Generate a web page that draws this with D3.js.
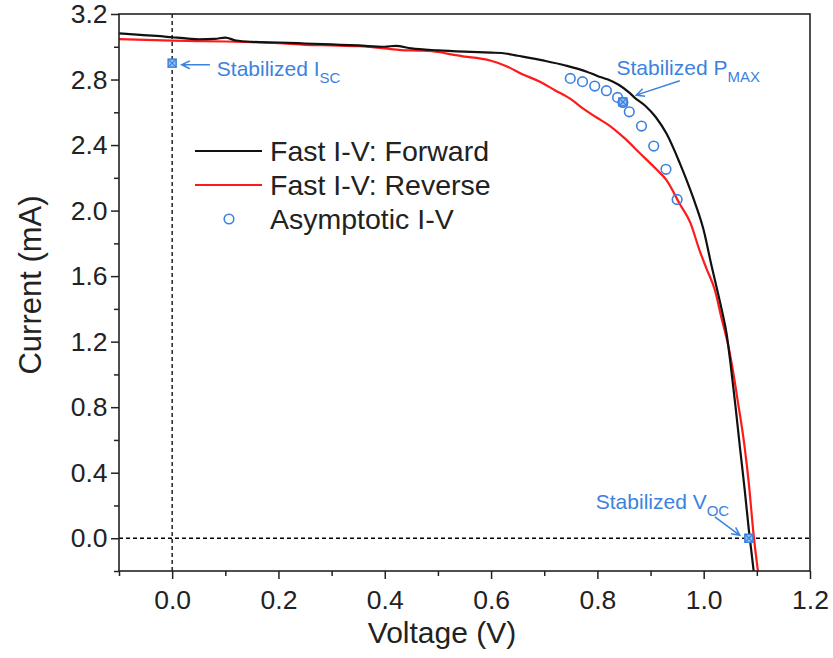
<!DOCTYPE html>
<html>
<head>
<meta charset="utf-8">
<script src="https://cdn.jsdelivr.net/npm/d3@7"></script>
<style>
  body { margin: 0; background: #fff; }
  svg { display: block; font-family: "Liberation Sans", Arial, sans-serif; }
</style>
</head>
<body>
<div id="chart"></div>
<script>
// Fast I-V, forward sweep
const fwdV = [-0.10, -0.06, -0.03, 0.00, 0.03, 0.05, 0.08, 0.10, 0.12, 0.15, 0.20, 0.25, 0.30, 0.35, 0.40, 0.42,
  0.45, 0.50, 0.55, 0.60, 0.62, 0.65, 0.70, 0.74, 0.78, 0.80, 0.82, 0.84, 0.86, 0.87, 0.89, 0.91, 0.93, 0.955,
  0.98, 1.000, 1.015, 1.027, 1.035, 1.043, 1.050, 1.060, 1.068, 1.077, 1.085, 1.094];
const fwdI = [3.082, 3.072, 3.066, 3.058, 3.050, 3.046, 3.048, 3.056, 3.038, 3.030, 3.026, 3.020, 3.014, 3.008, 3.000, 3.006,
  2.990, 2.978, 2.970, 2.964, 2.962, 2.945, 2.915, 2.886, 2.848, 2.822, 2.800, 2.768, 2.720, 2.690, 2.640, 2.570, 2.470, 2.290,
  2.080, 1.880, 1.660, 1.494, 1.380, 1.250, 1.080, 0.800, 0.560, 0.300, 0.049, -0.200];

// Fast I-V, reverse sweep
const revV = [-0.10, -0.05, 0.00, 0.05, 0.10, 0.15, 0.20, 0.25, 0.30, 0.35, 0.40, 0.43, 0.47, 0.50, 0.53, 0.55,
  0.58, 0.60, 0.63, 0.66, 0.69, 0.72, 0.75, 0.77, 0.80, 0.82, 0.85, 0.88, 0.91, 0.93, 0.955, 0.975, 0.992,
  1.006, 1.021, 1.033, 1.048, 1.058, 1.063, 1.077, 1.086, 1.093, 1.102];
const revI = [3.047, 3.042, 3.037, 3.035, 3.032, 3.028, 3.022, 3.012, 3.008, 3.003, 2.990, 2.980, 2.976, 2.968, 2.950, 2.940,
  2.928, 2.915, 2.880, 2.830, 2.790, 2.735, 2.680, 2.630, 2.565, 2.525, 2.445, 2.350, 2.255, 2.186, 2.040, 1.925, 1.759,
  1.640, 1.515, 1.351, 1.148, 0.965, 0.860, 0.558, 0.300, 0.049, -0.200];

// Asymptotic I-V points
const asyV = [0.749, 0.772, 0.795, 0.817, 0.838, 0.848, 0.860, 0.883, 0.906, 0.929, 0.950];
const asyI = [2.807, 2.787, 2.760, 2.732, 2.691, 2.660, 2.603, 2.516, 2.394, 2.252, 2.068];

// stabilized points: Isc, Pmax, Voc
const stabV = [0.0, 0.848, 1.085];
const stabI = [2.90, 2.663, 0.0];

const xTicks = [0.0, 0.2, 0.4, 0.6, 0.8, 1.0, 1.2];
const xMinor = [-0.1, 0.1, 0.3, 0.5, 0.7, 0.9, 1.1];
const yTicks = [0.0, 0.4, 0.8, 1.2, 1.6, 2.0, 2.4, 2.8, 3.2];
const yMinor = [-0.2, 0.2, 0.6, 1.0, 1.4, 1.8, 2.2, 2.6, 3.0];

const legendLabels = ["Fast I-V: Forward", "Fast I-V: Reverse", "Asymptotic I-V"];

const width = 833, height = 658;
const margin = { top: 14, right: 23, bottom: 87, left: 119 };
const blue = "#3b82e0";

const svg = d3.select("#chart").append("svg")
  .attr("width", width)
  .attr("height", height);

const x = d3.scaleLinear().domain([-0.1, 1.2]).range([margin.left, width - margin.right]);
const y = d3.scaleLinear().domain([-0.2, 3.2]).range([height - margin.bottom, margin.top]);

const fwd = fwdV.map((v, i) => [v, fwdI[i]]);
const rev = revV.map((v, i) => [v, revI[i]]);
const asy = asyV.map((v, i) => [v, asyI[i]]);

// zero lines
svg.append("line")
  .attr("x1", x(0)).attr("x2", x(0))
  .attr("y1", y(-0.2)).attr("y2", y(3.2))
  .attr("stroke", "#000").attr("stroke-width", 1.3).attr("stroke-dasharray", "4,3");
svg.append("line")
  .attr("x1", x(-0.1)).attr("x2", x(1.2))
  .attr("y1", y(0)).attr("y2", y(0))
  .attr("stroke", "#000").attr("stroke-width", 1.3).attr("stroke-dasharray", "4,3");

const line = d3.line().x(d => x(d[0])).y(d => y(d[1])).curve(d3.curveMonotoneX);

svg.append("path").datum(rev)
  .attr("fill", "none").attr("stroke", "#ff1a1a").attr("stroke-width", 2.2)
  .attr("d", line);
svg.append("path").datum(fwd)
  .attr("fill", "none").attr("stroke", "#111").attr("stroke-width", 2.2)
  .attr("d", line);

svg.selectAll(".asy").data(asy).join("circle")
  .attr("cx", d => x(d[0])).attr("cy", d => y(d[1])).attr("r", 4.8)
  .attr("fill", "none").attr("stroke", blue).attr("stroke-width", 1.6);

// stabilized markers: crossed squares
const stab = svg.selectAll(".stab").data(stabV.map((v, i) => [v, stabI[i]])).join("g")
  .attr("transform", d => `translate(${x(d[0])},${y(d[1])})`);
stab.append("rect").attr("x", -4).attr("y", -4).attr("width", 8).attr("height", 8)
  .attr("fill", "#9cc0f0").attr("stroke", blue).attr("stroke-width", 1.5);
stab.append("path").attr("d", "M-4,-4L4,4M-4,4L4,-4")
  .attr("stroke", blue).attr("stroke-width", 1.2);

// annotations
function arrow(v0, i0, v1, i1) {
  const x0 = x(v0), y0 = y(i0), x1 = x(v1), y1 = y(i1);
  const a = Math.atan2(y1 - y0, x1 - x0), h = 9, s = 0.45;
  const p = `M${x0},${y0}L${x1},${y1}` +
    `M${x1 - h * Math.cos(a - s)},${y1 - h * Math.sin(a - s)}L${x1},${y1}` +
    `L${x1 - h * Math.cos(a + s)},${y1 - h * Math.sin(a + s)}`;
  svg.append("path").attr("d", p).attr("fill", "none")
    .attr("stroke", blue).attr("stroke-width", 1.5);
}
function note(v, i, main, sub) {
  const t = svg.append("text").attr("x", x(v)).attr("y", y(i))
    .attr("fill", blue).style("font-size", "21px");
  t.append("tspan").text(main);
  t.append("tspan").attr("dy", 7).style("font-size", "15px").text(sub);
}
note(0.084, 2.82, "Stabilized I", "SC");
arrow(0.071, 2.89, 0.018, 2.89);
note(0.836, 2.827, "Stabilized P", "MAX");
arrow(0.955, 2.793, 0.873, 2.705);
note(0.797, 0.181, "Stabilized V", "OC");
arrow(1.021, 0.130, 1.068, 0.018);

// axes
const xAxis = svg.append("g")
  .attr("transform", `translate(0,${y(-0.2)})`)
  .call(d3.axisBottom(x).tickValues(xTicks).tickFormat(d3.format(".1f")).tickSize(8).tickSizeOuter(0));
svg.append("g")
  .attr("transform", `translate(0,${y(-0.2)})`)
  .call(d3.axisBottom(x).tickValues(xMinor).tickFormat("").tickSize(5).tickSizeOuter(0));
const yAxis = svg.append("g")
  .attr("transform", `translate(${x(-0.1)},0)`)
  .call(d3.axisLeft(y).tickValues(yTicks).tickFormat(d3.format(".1f")).tickSize(8).tickSizeOuter(0));
svg.append("g")
  .attr("transform", `translate(${x(-0.1)},0)`)
  .call(d3.axisLeft(y).tickValues(yMinor).tickFormat("").tickSize(5).tickSizeOuter(0));

svg.selectAll(".domain").remove();
svg.selectAll(".tick line").attr("stroke", "#222").attr("stroke-width", 1.5);
xAxis.selectAll("text").style("font-size", "26.5px").attr("fill", "#222").attr("dy", "1.0em");
yAxis.selectAll("text").style("font-size", "26.5px").attr("fill", "#222").attr("dx", "-0.02em");

// frame
svg.append("rect")
  .attr("x", x(-0.1)).attr("y", y(3.2))
  .attr("width", x(1.2) - x(-0.1)).attr("height", y(-0.2) - y(3.2))
  .attr("fill", "none").attr("stroke", "#222").attr("stroke-width", 1.6);

// axis titles
svg.append("text")
  .attr("x", 442).attr("y", 643)
  .attr("text-anchor", "middle").style("font-size", "30px").attr("fill", "#222")
  .text("Voltage (V)");
svg.append("text")
  .attr("transform", `translate(41,285) rotate(-90)`)
  .attr("text-anchor", "middle").style("font-size", "31px").attr("fill", "#222")
  .text("Current (mA)");

// legend
const leg = svg.append("g").attr("transform", "translate(195,151)");
leg.append("line").attr("x1", 0).attr("x2", 67).attr("y1", 0).attr("y2", 0)
  .attr("stroke", "#111").attr("stroke-width", 2.2);
leg.append("line").attr("x1", 0).attr("x2", 67).attr("y1", 34).attr("y2", 34)
  .attr("stroke", "#ff1a1a").attr("stroke-width", 2.2);
leg.append("circle").attr("cx", 34).attr("cy", 68).attr("r", 4.8)
  .attr("fill", "none").attr("stroke", blue).attr("stroke-width", 1.6);
leg.selectAll(".lt").data(legendLabels).join("text")
  .attr("x", 75).attr("y", (d, i) => i * 34)
  .attr("dy", "0.35em").style("font-size", "28.5px").attr("fill", "#222")
  .text(d => d);
</script>
</body>
</html>
